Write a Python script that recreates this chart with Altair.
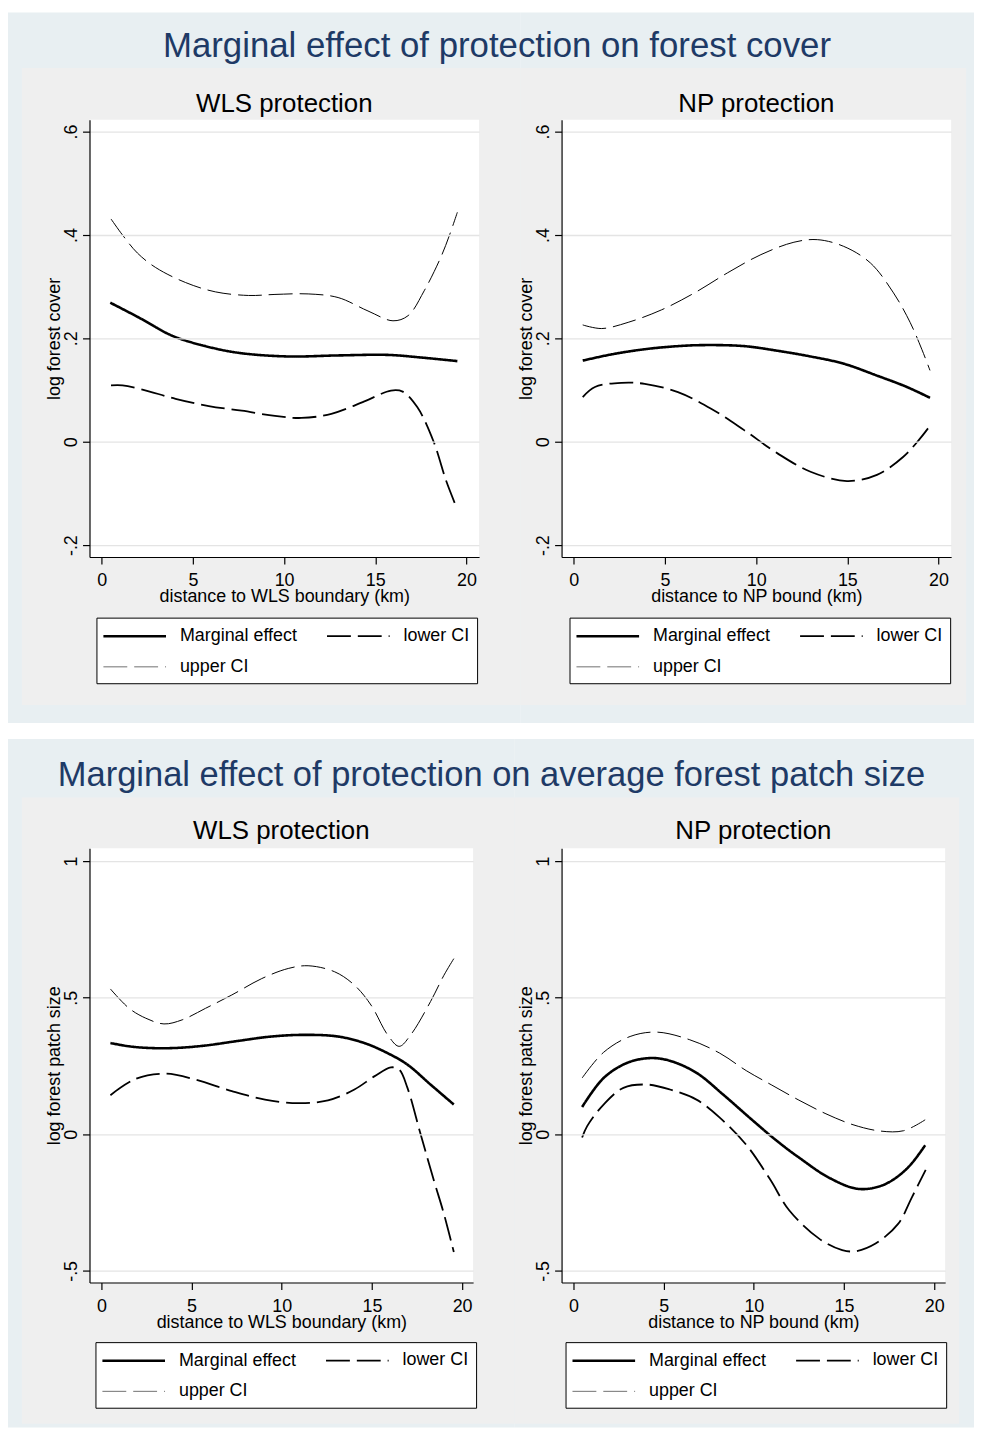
import altair as alt
import pandas as pd

FONT = "Liberation Sans"
NAVY = "#1e3a66"
BLUE_BG = "#e8eff2"
GRAY_BG = "#efefef"
GRID = "#e4e4e4"

SERIES = ["Marginal effect", "lower CI", "upper CI"]
X_TICKS = [0, 5, 10, 15, 20]
Y_TICKS_COVER = [-0.2, 0, 0.2, 0.4, 0.6]
Y_TICKS_PATCH = [-0.5, 0, 0.5, 1]

MAIN_TITLES = ["Marginal effect of protection on forest cover",
               "Marginal effect of protection on average forest patch size"]
PANEL_TITLES = ["WLS protection", "NP protection"]
X_TITLES = ["distance to WLS boundary (km)", "distance to NP bound (km)"]
Y_TITLES = ["log forest cover", "log forest patch size"]

# ---- forest cover, WLS ----
fc_wls_me_x = [0.47, 2.05, 3.87, 5.69, 7.51, 10.2, 12.96, 15.7, 17.5, 19.5]
fc_wls_me_y = [0.269, 0.240, 0.205, 0.185, 0.172, 0.165, 0.167, 0.168, 0.163, 0.156]
fc_wls_lo_x = [0.51, 1.14, 2.23, 4.05, 5.87, 7.68, 9.5, 10.95, 12.59, 14.4, 15.86, 16.5, 17.3, 18.2, 18.9, 19.5]
fc_wls_lo_y = [0.109, 0.109, 0.101, 0.083, 0.069, 0.060, 0.050, 0.046, 0.054, 0.078, 0.099, 0.097, 0.067, 0.0, -0.077, -0.131]
fc_wls_up_x = [0.51, 1.14, 1.96, 2.96, 4.6, 6.23, 8.05, 9.5, 11.32, 12.96, 14.6, 15.97, 16.8, 17.68, 18.58, 19.04, 19.5]
fc_wls_up_y = [0.431, 0.40, 0.365, 0.337, 0.308, 0.29, 0.283, 0.285, 0.286, 0.279, 0.253, 0.234, 0.244, 0.292, 0.356, 0.397, 0.444]

# ---- forest cover, NP ----
fc_np_me_x = [0.49, 2.07, 3.89, 5.71, 7.16, 9.34, 11.17, 12.98, 14.8, 16.62, 18.26, 19.53]
fc_np_me_y = [0.157, 0.169, 0.179, 0.185, 0.187, 0.185, 0.176, 0.165, 0.151, 0.128, 0.106, 0.085]
fc_np_lo_x = [0.49, 1.16, 2.62, 3.89, 5.71, 7.53, 9.34, 11.17, 12.98, 14.98, 16.62, 18.07, 18.98, 19.53]
fc_np_lo_y = [0.0865, 0.106, 0.114, 0.112, 0.096, 0.064, 0.0225, -0.0225, -0.058, -0.076, -0.064, -0.029, 0.006, 0.031]
fc_np_up_x = [0.49, 1.53, 2.98, 4.8, 6.62, 8.44, 10.26, 12.07, 13.35, 14.8, 16.26, 17.53, 18.44, 19.08, 19.53]
fc_np_up_y = [0.226, 0.219, 0.231, 0.255, 0.288, 0.327, 0.362, 0.386, 0.391, 0.378, 0.346, 0.288, 0.231, 0.179, 0.138]

# ---- patch size, WLS ----
ps_wls_me_x = [0.5, 1.54, 2.64, 4.11, 5.77, 7.6, 9.44, 11.28, 13.11, 14.58, 15.87, 16.97, 18.25, 19.54]
ps_wls_me_y = [0.334, 0.322, 0.316, 0.316, 0.325, 0.342, 0.358, 0.364, 0.358, 0.334, 0.297, 0.255, 0.182, 0.109]
ps_wls_lo_x = [0.5, 1.91, 3.56, 5.22, 7.23, 9.07, 10.91, 12.56, 14.03, 15.13, 16.05, 16.51, 16.97, 17.7, 18.44, 18.99, 19.54]
ps_wls_lo_y = [0.143, 0.203, 0.222, 0.20, 0.158, 0.127, 0.114, 0.124, 0.164, 0.212, 0.245, 0.237, 0.17, 0.0, -0.17, -0.291, -0.431]
ps_wls_up_x = [0.5, 1.54, 2.46, 3.47, 4.48, 5.77, 7.23, 8.89, 10.36, 11.46, 12.93, 14.03, 14.95, 15.87, 16.51, 17.15, 18.25, 18.99, 19.54]
ps_wls_up_y = [0.532, 0.461, 0.425, 0.404, 0.419, 0.461, 0.51, 0.57, 0.607, 0.617, 0.595, 0.546, 0.473, 0.364, 0.322, 0.364, 0.486, 0.582, 0.643]

# ---- patch size, NP ----
ps_np_me_x = [0.48, 1.67, 2.96, 4.25, 5.35, 6.82, 8.29, 9.76, 11.2, 12.5, 14.2, 15.8, 17.2, 18.5, 19.5]
ps_np_me_y = [0.100, 0.206, 0.261, 0.279, 0.269, 0.225, 0.146, 0.061, -0.02, -0.085, -0.16, -0.20, -0.185, -0.125, -0.04]
ps_np_lo_x = [0.48, 0.76, 1.67, 2.77, 4.07, 5.35, 6.82, 8.11, 9.6, 10.9, 11.97, 13.62, 14.9, 15.65, 16.75, 18.0, 18.77, 19.53]
ps_np_lo_y = [-0.012, 0.03, 0.109, 0.17, 0.182, 0.164, 0.127, 0.061, -0.04, -0.165, -0.279, -0.382, -0.424, -0.428, -0.40, -0.328, -0.23, -0.13]
ps_np_up_x = [0.48, 1.67, 3.14, 4.62, 6.45, 8.11, 9.58, 11.0, 12.5, 14.0, 15.5, 17.0, 18.3, 19.5]
ps_np_up_y = [0.206, 0.30, 0.358, 0.374, 0.346, 0.297, 0.233, 0.18, 0.125, 0.075, 0.035, 0.012, 0.013, 0.053]

LEGEND_COLORS = ["#000000", "#000000", "#707070"]
LINE_WIDTHS = [2.6, 1.0, 1.0]
LINE_DASHES = [[1, 0], [24, 7], [24, 7]]


def table(me_x, me_y, lo_x, lo_y, up_x, up_y):
    rows = []
    for name, xs, ys in [(SERIES[0], me_x, me_y), (SERIES[1], lo_x, lo_y), (SERIES[2], up_x, up_y)]:
        for a, b in zip(xs, ys):
            rows.append({"series": name, "x": a, "y": b})
    return pd.DataFrame(rows)


ONE = pd.DataFrame({"k": [0]})


def rect(x1, x2, y1, y2, color):
    return alt.Chart(ONE).mark_rect(color=color, strokeWidth=0).encode(
        x=alt.value(x1), x2=alt.value(x2), y=alt.value(y1), y2=alt.value(y2))


def label(text, x, y, size, color="black"):
    return alt.Chart(ONE).mark_text(
        text=text, fontSize=size, color=color, font=FONT,
        align="center", baseline="alphabetic").encode(x=alt.value(x), y=alt.value(y))


LABEL_EXPR = "replace(replace(format(datum.value, '~g'), '\u2212', '-'), '0.', '.')"


def panel(df, W, H, xdom, ydom, yvals, xtitle, ytitle, ptitle, ptitle_y,
          blue, gray, leg_x, leg_y, extra=None):
    x = alt.X("x:Q", scale=alt.Scale(domain=xdom, nice=False, zero=False),
              axis=alt.Axis(values=X_TICKS, format="d", title=xtitle, grid=False,
                            tickSize=7, labelPadding=8, labelFlush=False, labelOverlap=False,
                            titleX=W / 2, titleY=45, titleBaseline="alphabetic",
                            titleAlign="center", zindex=1))
    y = alt.Y("y:Q", scale=alt.Scale(domain=ydom, nice=False, zero=False),
              axis=alt.Axis(values=yvals, labelExpr=LABEL_EXPR, title=ytitle, grid=True,
                            tickSize=7, labelPadding=6, labelAngle=270, labelAlign="center",
                            labelBaseline="alphabetic", labelFlush=False, labelOverlap=False,
                            titleAngle=270, titleX=-30, titleY=H / 2,
                            titleBaseline="alphabetic", titleAlign="center", zindex=1))
    legend = alt.Legend(
        title=None, orient="none", legendX=leg_x, legendY=leg_y, columns=2,
        direction="horizontal",
        symbolType="M-3.15,0H3.15", symbolSize=400, symbolOffset=20, symbolOpacity=1,
        labelOffset=34, labelFontSize=18, labelFont=FONT, labelColor="black",
        labelLimit=400, columnPadding=26, rowPadding=11, padding=7,
        strokeColor="black", fillColor="white", cornerRadius=0)
    dash = alt.StrokeDash("series:N", scale=alt.Scale(domain=SERIES, range=LINE_DASHES), legend=legend)
    width = alt.StrokeWidth("series:N", scale=alt.Scale(domain=SERIES, range=LINE_WIDTHS), legend=legend)
    lines = alt.Chart(df).mark_line(interpolate="catmull-rom", color="black", clip=True).encode(
        x=x, y=y, strokeDash=dash, strokeWidth=width)
    # invisible copy carrying the legend key colours
    keys = alt.Chart(df).mark_line(interpolate="catmull-rom", opacity=0, clip=True).encode(
        x=alt.X("x:Q"), y=alt.Y("y:Q"), strokeDash=dash, strokeWidth=width,
        color=alt.Color("series:N", scale=alt.Scale(domain=SERIES, range=LEGEND_COLORS), legend=legend))
    layers = [rect(*blue, BLUE_BG), rect(*gray, GRAY_BG), rect(0, W, 0, H, "white"), keys, lines,
              label(ptitle, W / 2, ptitle_y, 26)]
    if extra is not None:
        layers.append(extra)
    return alt.layer(*layers).properties(width=W, height=H)


df1 = table(fc_wls_me_x, fc_wls_me_y, fc_wls_lo_x, fc_wls_lo_y, fc_wls_up_x, fc_wls_up_y)
df2 = table(fc_np_me_x, fc_np_me_y, fc_np_lo_x, fc_np_lo_y, fc_np_up_x, fc_np_up_y)
df3 = table(ps_wls_me_x, ps_wls_me_y, ps_wls_lo_x, ps_wls_lo_y, ps_wls_up_x, ps_wls_up_y)
df4 = table(ps_np_me_x, ps_np_me_y, ps_np_lo_x, ps_np_lo_y, ps_np_up_x, ps_np_up_y)

TW, TH = 392, 440
BW, BH = 386, 437
TOP_X = [-0.67, 20.69]
TOP_Y = [-0.223, 0.623]
BOT_X = [-0.66, 20.61]
BOT_Y = [-0.5426, 1.0473]

p1 = panel(df1, TW, TH, TOP_X, TOP_Y, Y_TICKS_COVER, X_TITLES[0], Y_TITLES[0], PANEL_TITLES[0], -8,
           (-82, 434, -108, 607), (-68, 434, -52, 589), 7, 501)
p2 = panel(df2, TW, TH, TOP_X, TOP_Y, Y_TICKS_COVER, X_TITLES[1], Y_TITLES[0], PANEL_TITLES[1], -8,
           (-41, 415, -108, 607), (-41, 407, -52, 589), 8, 501,
           extra=label(MAIN_TITLES[0], -65, -63, 35, NAVY))
p3 = panel(df3, BW, BH, BOT_X, BOT_Y, Y_TICKS_PATCH, X_TITLES[0], Y_TITLES[1], PANEL_TITLES[0], -9,
           (-82, 428, -110, 583), (-68, 428, -51, 579), 6, 497)
p4 = panel(df4, BW, BH, BOT_X, BOT_Y, Y_TICKS_PATCH, X_TITLES[1], Y_TITLES[1], PANEL_TITLES[1], -9,
           (-47, 415, -110, 583), (-47, 400, -51, 579), 4, 497,
           extra=label(MAIN_TITLES[1], -70.5, -62.3, 34.7, NAVY))

chart = alt.concat(
    p1, p2, p3, p4, columns=2,
    spacing=alt.RowColnumber(row=293, column=83),
    bounds="flush",
).resolve_scale(
    x="independent", y="independent", strokeDash="independent",
    strokeWidth="independent", color="independent"
).resolve_legend(
    strokeDash="independent", strokeWidth="independent", color="independent"
).configure(
    font=FONT, background="white", padding=0
).configure_view(
    strokeWidth=0, strokeOpacity=0
).configure_axis(
    labelFont=FONT, titleFont=FONT, labelFontSize=18, titleFontSize=18,
    labelColor="black", titleColor="black", titleFontWeight="normal",
    domainColor="black", tickColor="black", domainWidth=1.2, tickWidth=1.2,
    gridColor=GRID, gridWidth=1.3,
)

chart.save("out.html", embed_options={"renderer": "svg", "actions": False})
